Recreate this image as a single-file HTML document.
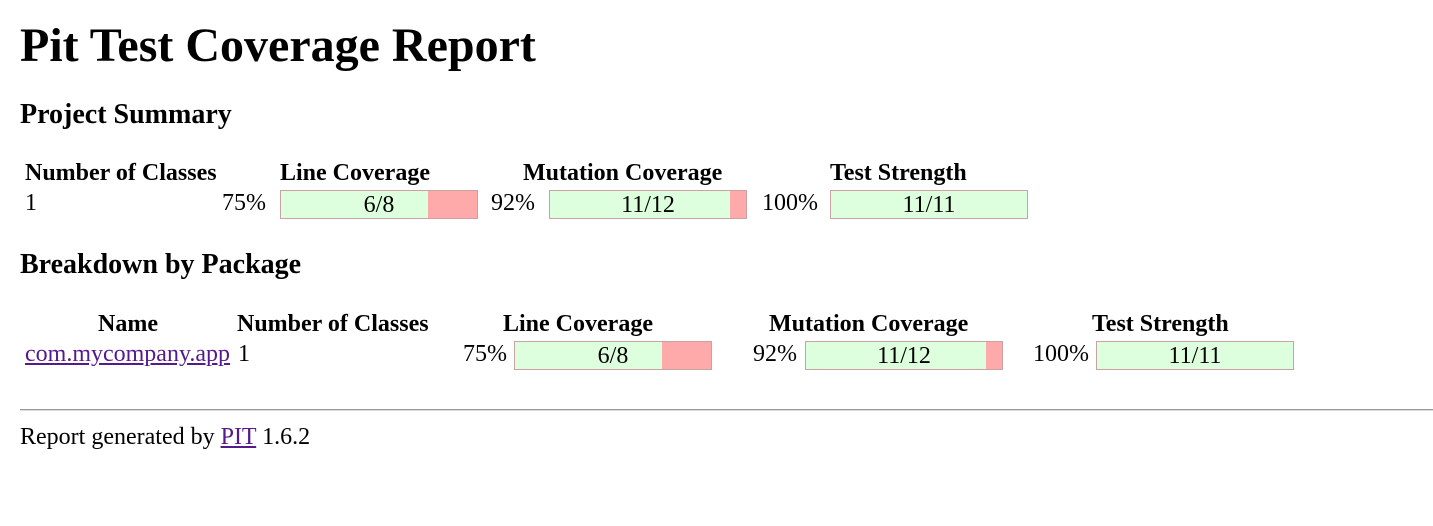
<!DOCTYPE html>
<html><head><meta charset="utf-8"><style>
html,body{margin:0;padding:0;background:#fff;width:1433px;height:526px;overflow:hidden}
body{font-family:"Liberation Serif",serif;color:#000;position:relative}
.t{position:absolute;line-height:1;white-space:nowrap;font-size:24px}
.b{font-weight:bold}
.h1{font-size:48px;font-weight:bold}
.h3{font-size:28px;font-weight:bold}
.bar{position:absolute;width:196px;height:27px;border:1px solid #c9a3a3;background:#faa}
.bar .g{position:absolute;left:0;top:0;height:100%;background:#dfd}
.bar .l{position:absolute;left:0;top:0;width:100%;height:100%;text-align:center;font-size:24px;line-height:29px}
a{color:#551a8b;text-decoration:underline}
hr{position:absolute;left:20px;top:409px;width:1413px;margin:0;border:0;border-top:1px solid #999;border-bottom:1px solid #ddd;height:0}
</style></head><body>
<div class="t h1" style="left:20px;top:22px">Pit Test Coverage Report</div>
<div class="t h3" style="left:20px;top:101px">Project Summary</div>

<div class="t b" style="left:25px;top:161px">Number of Classes</div>
<div class="t b" style="left:280px;top:161px">Line Coverage</div>
<div class="t b" style="left:523px;top:161px">Mutation Coverage</div>
<div class="t b" style="left:830px;top:161px">Test Strength</div>

<div class="t" style="left:25px;top:191px">1</div>
<div class="t" style="left:222px;top:191px">75%</div>
<div class="bar" style="left:280px;top:190px"><div class="g" style="width:75%"></div><div class="l">6/8</div></div>
<div class="t" style="left:491px;top:191px">92%</div>
<div class="bar" style="left:549px;top:190px"><div class="g" style="width:92%"></div><div class="l">11/12</div></div>
<div class="t" style="left:762px;top:191px">100%</div>
<div class="bar" style="left:830px;top:190px"><div class="g" style="width:100%"></div><div class="l">11/11</div></div>

<div class="t h3" style="left:20px;top:251px">Breakdown by Package</div>

<div class="t b" style="left:98px;top:312px">Name</div>
<div class="t b" style="left:237px;top:312px">Number of Classes</div>
<div class="t b" style="left:503px;top:312px">Line Coverage</div>
<div class="t b" style="left:769px;top:312px">Mutation Coverage</div>
<div class="t b" style="left:1092px;top:312px">Test Strength</div>

<div class="t" style="left:25px;top:342px"><a href="#">com.mycompany.app</a></div>
<div class="t" style="left:238px;top:342px">1</div>
<div class="t" style="left:463px;top:342px">75%</div>
<div class="bar" style="left:514px;top:341px"><div class="g" style="width:75%"></div><div class="l">6/8</div></div>
<div class="t" style="left:753px;top:342px">92%</div>
<div class="bar" style="left:805px;top:341px"><div class="g" style="width:92%"></div><div class="l">11/12</div></div>
<div class="t" style="left:1033px;top:342px">100%</div>
<div class="bar" style="left:1096px;top:341px"><div class="g" style="width:100%"></div><div class="l">11/11</div></div>

<hr>
<div class="t" style="left:20px;top:425px">Report generated by <a href="#">PIT</a> 1.6.2</div>
</body></html>
